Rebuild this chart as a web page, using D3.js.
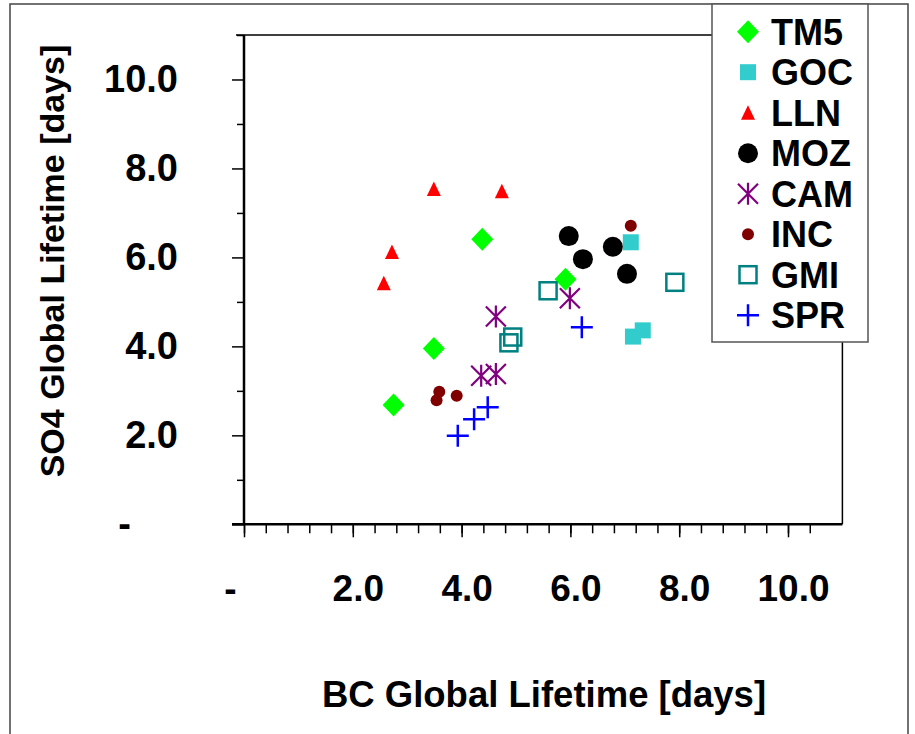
<!DOCTYPE html>
<html>
<head>
<meta charset="utf-8">
<script src="https://cdn.jsdelivr.net/npm/d3@7"></script>
<style>
  body { margin: 0; background: #fff; }
  svg { display: block; font-family: "Liberation Sans", Arial, sans-serif; font-weight: bold; }
</style>
</head>
<body>
<script>
// models in legend order
const models = ["TM5", "GOC", "LLN", "MOZ", "CAM", "INC", "GMI", "SPR"];

// BC global lifetime [days], one list per model (same order as models)
const bcLifetime = [
  [2.75, 3.49, 4.38, 5.91],
  [7.11, 7.15, 7.33],
  [2.57, 2.72, 3.49, 4.74],
  [5.97, 6.23, 6.78, 7.04],
  [4.63, 4.36, 4.63, 5.99],
  [3.59, 3.54, 3.91, 7.11],
  [4.94, 4.87, 5.59, 7.92],
  [4.48, 4.23, 3.93, 6.21]
];

// SO4 global lifetime [days]
const so4Lifetime = [
  [2.68, 3.95, 6.41, 5.51],
  [6.34, 4.22, 4.36],
  [5.42, 6.12, 7.54, 7.49],
  [6.48, 5.96, 6.24, 5.63],
  [4.67, 3.34, 3.38, 5.08],
  [2.98, 2.79, 2.89, 6.71],
  [4.21, 4.08, 5.25, 5.44],
  [2.63, 2.36, 1.99, 4.43]
];

const majorTicks = [0, 2, 4, 6, 8, 10];
const tickLabels = ["-", "2.0", "4.0", "6.0", "8.0", "10.0"];

let svg = null;
let x, y = null;

const W = 915, H = 734;
const plot = { left: 244, right: 842.4, top: 35, bottom: 524.3 };

// marker styles per model
const markers = {
  TM5: { shape: "diamond", color: "#00ff00" },
  GOC: { shape: "square", color: "#33cccc" },
  LLN: { shape: "triangle", color: "#ff0000" },
  MOZ: { shape: "circle", color: "#000000" },
  CAM: { shape: "asterisk", color: "#800080" },
  INC: { shape: "dot", color: "#800000" },
  GMI: { shape: "openSquare", color: "#008080" },
  SPR: { shape: "plus", color: "#0000ff" }
};

main();

function main() {
  appendSvg("body");
  setupScales();
  drawFrame();
  appendYAxis();
  appendXAxis();
  addPoints();
  addLegend();
  addTitles();
}

function appendSvg(domElement) {
  svg = d3.select(domElement).append("svg")
    .attr("width", W)
    .attr("height", H);

  // outer chart border
  svg.append("rect")
    .attr("x", 10).attr("y", 4)
    .attr("width", 898).attr("height", 760)
    .attr("fill", "#fff")
    .attr("stroke", "#444")
    .attr("stroke-width", 1.5);
}

function setupScales() {
  x = d3.scaleLinear().domain([0, 11]).range([plot.left, plot.right]);
  y = d3.scaleLinear().domain([0, 11]).range([plot.bottom, plot.top]);
}

function drawFrame() {
  // top and right edges of the plot area
  svg.append("path")
    .attr("d", `M${plot.left - 8},${plot.top}H${plot.right}V${plot.bottom}`)
    .attr("fill", "none")
    .attr("stroke", "#000")
    .attr("stroke-width", 1.5);
}

function styleLabels(sel, size) {
  sel.attr("font-size", size)
    .attr("font-family", "Liberation Sans, Arial, sans-serif")
    .attr("font-weight", "bold")
    .attr("fill", "#000");
}

function appendYAxis() {
  // minor ticks every 1.0
  svg.append("g")
    .attr("transform", `translate(${plot.left},0)`)
    .call(d3.axisLeft(y).tickValues(d3.range(1, 12, 2)).tickSize(7).tickFormat(""))
    .call(g => g.select(".domain").remove())
    .call(g => g.selectAll("line").attr("stroke-width", 1.5));

  const g = svg.append("g")
    .attr("transform", `translate(${plot.left},0)`)
    .call(d3.axisLeft(y).tickValues(majorTicks).tickSize(12).tickPadding(54)
      .tickFormat((d, i) => tickLabels[i]));
  g.select(".domain").attr("d", `M0,${plot.top}V${plot.bottom + 1}`).attr("stroke-width", 2.5);
  g.selectAll("line").attr("stroke-width", 1.5);
  g.selectAll("text")
    .call(styleLabels, 38)
    .attr("dx", d => d === 0 ? -47 : 0);
}

function appendXAxis() {
  // minor ticks every 0.4
  svg.append("g")
    .attr("transform", `translate(0,${plot.bottom})`)
    .call(d3.axisBottom(x).tickValues(d3.range(0, 27).map(i => i * 0.4)).tickSize(9).tickFormat(""))
    .call(g => g.select(".domain").remove())
    .call(g => g.selectAll("line").attr("stroke-width", 1.5));

  const g = svg.append("g")
    .attr("transform", `translate(0,${plot.bottom})`)
    .call(d3.axisBottom(x).tickValues(majorTicks).tickSize(13).tickPadding(37)
      .tickFormat((d, i) => tickLabels[i]));
  g.select(".domain").attr("d", `M${plot.left - 12},0H${plot.right}`).attr("stroke-width", 2.5);
  g.selectAll("line").attr("stroke-width", 1.5);
  g.selectAll("text")
    .call(styleLabels, 37)
    .attr("dx", d => d === 0 ? -14 : 5);
}

function drawMarker(sel, name) {
  const m = markers[name];
  switch (m.shape) {
    case "diamond":
      sel.append("path").attr("d", "M0,-11.5L11,0L0,11.5L-11,0Z").attr("fill", m.color);
      break;
    case "square":
      sel.append("rect").attr("x", -8).attr("y", -8).attr("width", 16).attr("height", 16).attr("fill", m.color);
      break;
    case "triangle":
      sel.append("path").attr("d", "M0,-7.5L7,7L-7,7Z").attr("fill", m.color);
      break;
    case "circle":
      sel.append("circle").attr("r", 10).attr("fill", m.color);
      break;
    case "dot":
      sel.append("circle").attr("r", 6).attr("fill", m.color);
      break;
    case "openSquare":
      sel.append("rect").attr("x", -8.5).attr("y", -8.5).attr("width", 17).attr("height", 17)
        .attr("fill", "none").attr("stroke", m.color).attr("stroke-width", 2.5);
      break;
    case "asterisk":
      sel.append("path").attr("d", "M0,-11V11M-10,-10L10,10M-10,10L10,-10")
        .attr("stroke", m.color).attr("stroke-width", 2.2).attr("fill", "none");
      break;
    case "plus":
      sel.append("path").attr("d", "M0,-11V11M-11,0H11")
        .attr("stroke", m.color).attr("stroke-width", 2.5).attr("fill", "none");
      break;
  }
}

function addPoints() {
  models.forEach((name, mi) => {
    const pts = bcLifetime[mi].map((bc, i) => ({ bc: bc, so4: so4Lifetime[mi][i] }));
    svg.append("g").attr("class", "series " + name)
      .selectAll("g")
      .data(pts)
      .enter()
      .append("g")
      .attr("transform", d => `translate(${x(d.bc)},${y(d.so4)})`)
      .each(function () { drawMarker(d3.select(this), name); });
  });
}

function addLegend() {
  const lg = svg.append("g");
  lg.append("rect")
    .attr("x", 712).attr("y", 4)
    .attr("width", 156).attr("height", 338)
    .attr("fill", "#fff")
    .attr("stroke", "#555")
    .attr("stroke-width", 1.5);

  const rows = lg.selectAll("g.row")
    .data(models)
    .enter()
    .append("g")
    .attr("class", "row")
    .attr("transform", (d, i) => `translate(748,${31.7 + i * 40.5})`);

  rows.each(function (d) { drawMarker(d3.select(this), d); });

  rows.append("text")
    .attr("x", 23)
    .attr("y", 13)
    .attr("font-size", 36)
    .attr("fill", "#000")
    .text(d => d);
}

function addTitles() {
  svg.append("text")
    .attr("x", 544)
    .attr("y", 707)
    .attr("text-anchor", "middle")
    .attr("font-size", 36.5)
    .text("BC Global Lifetime [days]");

  svg.append("text")
    .attr("transform", "translate(64,261) rotate(-90)")
    .attr("text-anchor", "middle")
    .attr("font-size", 34)
    .text("SO4 Global Lifetime [days]");
}
</script>
</body>
</html>
